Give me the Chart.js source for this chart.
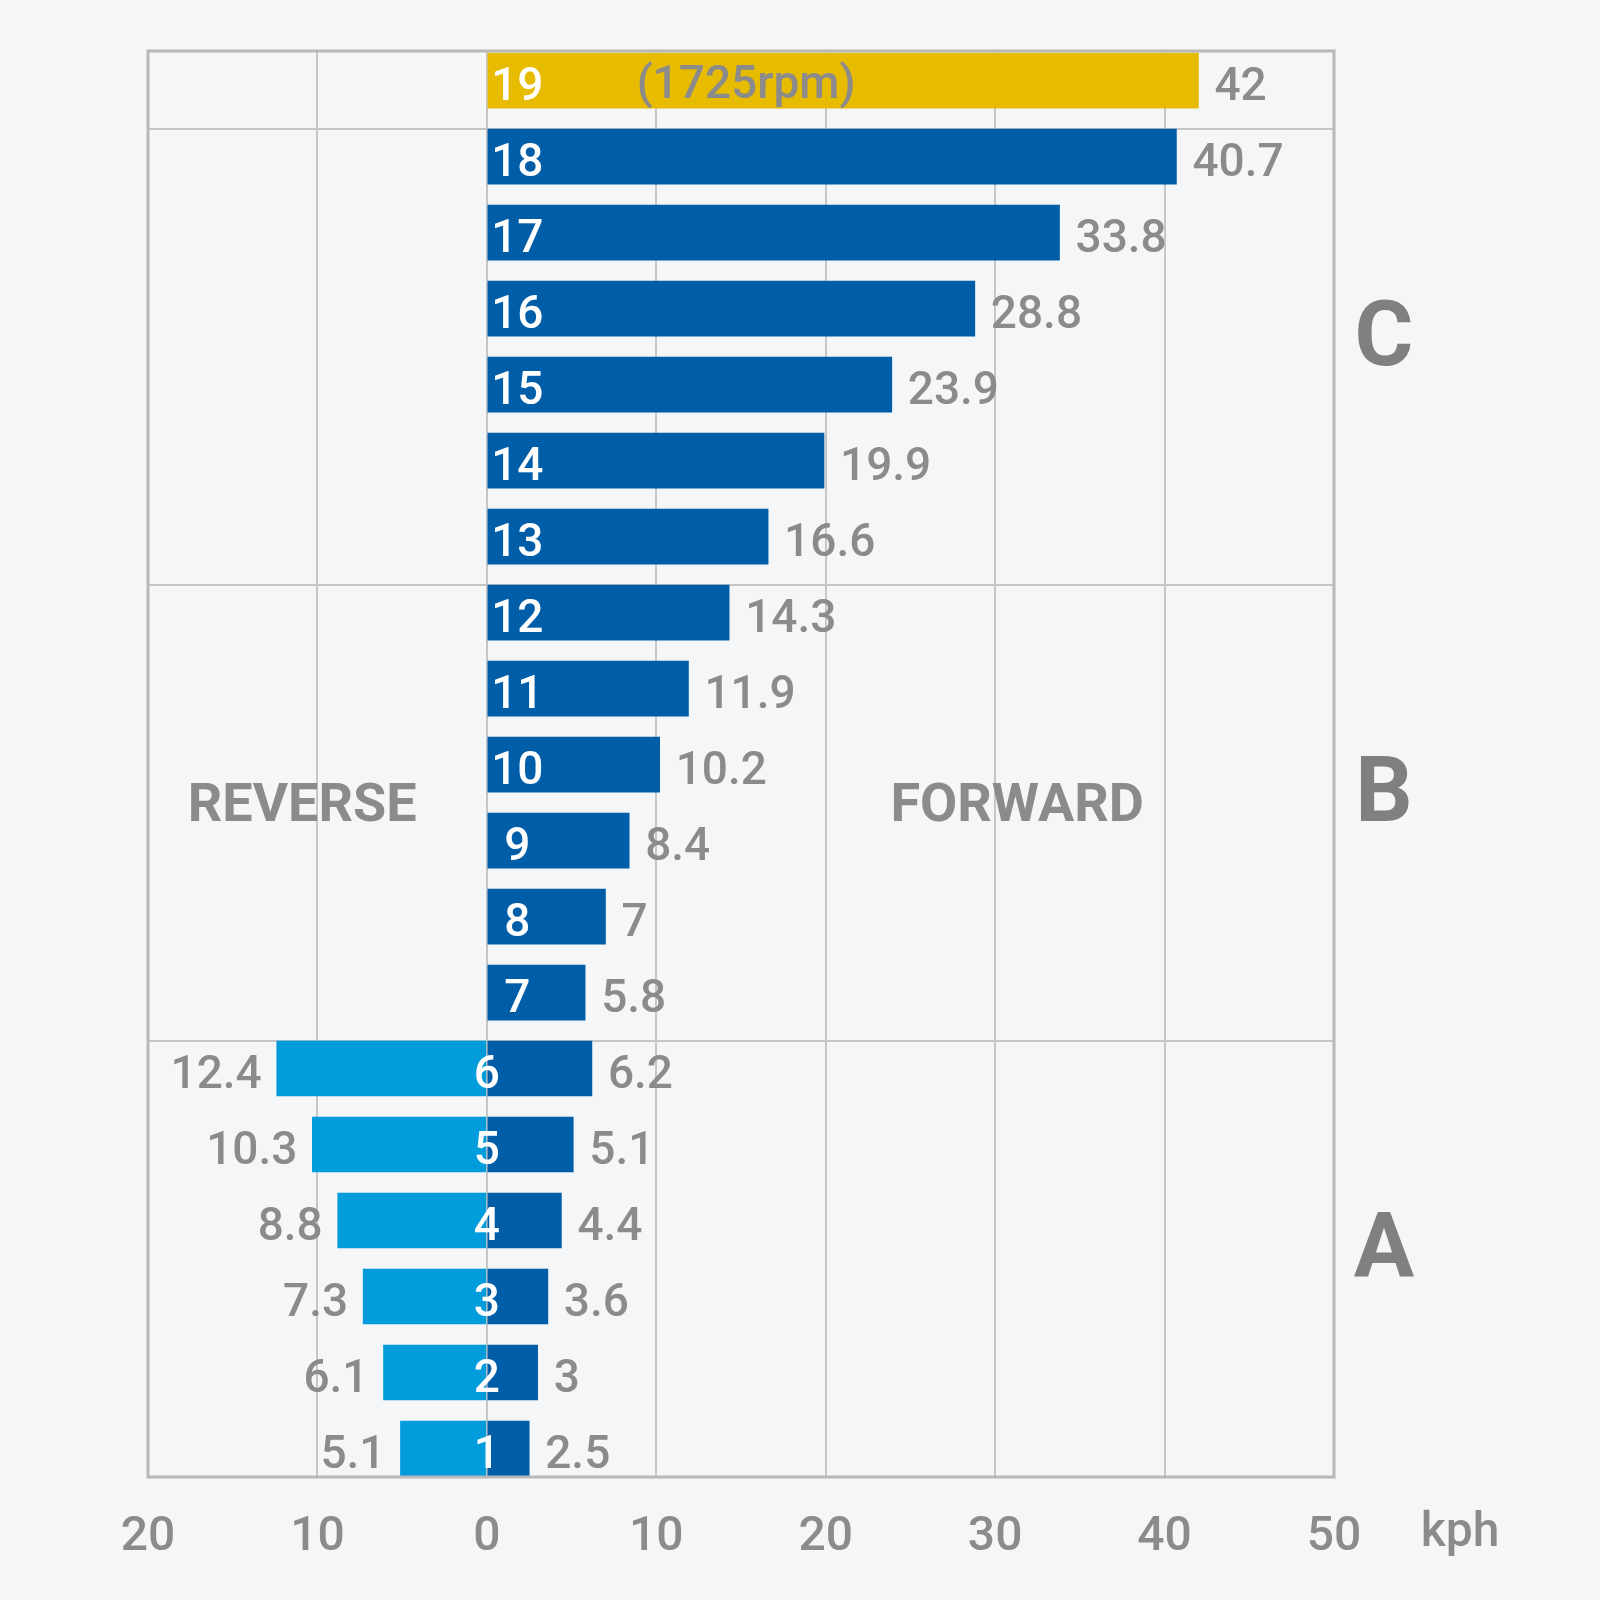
<html>
<head>
    <title>Gear speeds</title>
    <script src="https://cdn.jsdelivr.net/npm/chart.js@4.4.1/dist/chart.umd.min.js"></script>
    <style>
        body { margin: 0; background: #f5f6f8; }
    </style>
</head>
<body>
    <canvas id="gearChart" width="1600" height="1600"></canvas>
    <script>
        // gears top to bottom
        var gears = [19, 18, 17, 16, 15, 14, 13, 12, 11, 10, 9, 8, 7, 6, 5, 4, 3, 2, 1];
        var forward = [42, 40.7, 33.8, 28.8, 23.9, 19.9, 16.6, 14.3, 11.9, 10.2, 8.4, 7, 5.8, 6.2, 5.1, 4.4, 3.6, 3, 2.5];
        var reverse = [null, null, null, null, null, null, null, null, null, null, null, null, null, 12.4, 10.3, 8.8, 7.3, 6.1, 5.1];
        var tickLabels = ['20', '10', '0', '10', '20', '30', '40', '50'];
        var groups = [
            { name: 'C', from: 18, to: 13 },
            { name: 'B', from: 12, to: 7 },
            { name: 'A', from: 6, to: 1 }
        ];
        var topNote = '(1725rpm)';

        var GRAY = '#8b8b8b';
        var FONT = 'Roboto, "DejaVu Sans", sans-serif';
        var BAR = 55;

        var textPlugin = {
            id: 'texts',
            beforeDraw: function (chart) {
                var c = chart.ctx;
                c.save();
                c.fillStyle = '#f5f6f8';
                c.fillRect(0, 0, chart.width, chart.height);
                c.restore();
            },
            afterDraw: function (chart) {
                var c = chart.ctx;
                var xs = chart.scales.x, ys = chart.scales.y;
                var area = chart.chartArea;
                c.save();
                // frame
                c.strokeStyle = '#b8b8b8';
                c.lineWidth = 3;
                c.strokeRect(area.left, area.top, area.right - area.left, area.bottom - area.top);

                c.textBaseline = 'middle';
                c.font = '500 46px ' + FONT;
                var fMeta = chart.getDatasetMeta(0);
                fMeta.data.forEach(function (bar, i) {
                    c.fillStyle = GRAY;
                    c.textAlign = 'left';
                    c.fillText(String(forward[i]), bar.x + 16, bar.y + 8);
                    // gear number
                    c.fillStyle = '#ffffff';
                    c.textAlign = 'center';
                    var gx = reverse[i] == null ? xs.getPixelForValue(1.8) : xs.getPixelForValue(0);
                    c.fillText(String(gears[i]), gx, bar.y + 8);
                });
                var rMeta = chart.getDatasetMeta(1);
                rMeta.data.forEach(function (bar, i) {
                    if (reverse[i] == null) return;
                    c.fillStyle = GRAY;
                    c.textAlign = 'right';
                    c.fillText(String(reverse[i]), bar.x - 15, bar.y + 8);
                });
                // rpm note on top gear
                c.fillStyle = GRAY;
                c.textAlign = 'center';
                c.fillText(topNote, xs.getPixelForValue(15.3), ys.getPixelForValue(gears[0]) + 6);

                // REVERSE / FORWARD
                c.font = 'bold 54px ' + FONT;
                var midY = ys.getPixelForValue(9.5) + 5;
                c.fillText('REVERSE', xs.getPixelForValue(-10.9), midY);
                c.fillText('FORWARD', xs.getPixelForValue(31.3), midY);

                // group letters
                c.font = 'bold 90px ' + FONT;
                c.fillStyle = '#808080';
                groups.forEach(function (g) {
                    var y = ys.getPixelForValue((g.from + g.to) / 2) - 4;
                    c.fillText(g.name, area.right + 50, y);
                });

                // unit
                c.font = '500 48px ' + FONT;
                c.fillStyle = GRAY;
                c.fillText('kph', area.right + 126, area.bottom + 57);
                c.restore();
            }
        };

        var forwardColors = gears.map(function (g) { return g === 19 ? '#e6bb00' : '#005ea9'; });

        var config = {
            type: 'bar',
            data: {
                datasets: [
                    {
                        label: 'Forward',
                        data: gears.map(function (g, i) { return { x: forward[i], y: g }; }),
                        backgroundColor: forwardColors,
                        barThickness: BAR,
                        borderWidth: 0
                    },
                    {
                        label: 'Reverse',
                        data: gears.map(function (g, i) { return { x: reverse[i] == null ? null : -reverse[i], y: g }; }),
                        backgroundColor: '#009cdc',
                        barThickness: BAR,
                        borderWidth: 0
                    }
                ]
            },
            options: {
                indexAxis: 'y',
                responsive: false,
                animation: false,
                layout: { padding: { left: 148, right: 266, top: 51, bottom: 0 } },
                plugins: {
                    legend: { display: false },
                    tooltip: { enabled: false }
                },
                scales: {
                    x: {
                        stacked: true,
                        min: -20,
                        max: 50,
                        border: { display: false },
                        grid: { color: '#c6c6c6', lineWidth: 2, drawTicks: false },
                        ticks: {
                            stepSize: 10,
                            padding: 32,
                            color: GRAY,
                            font: { family: FONT, size: 48, weight: '500' },
                            callback: function (v, i) { return tickLabels[i]; }
                        },
                        afterFit: function (scale) { scale.height = 123; }
                    },
                    y: {
                        type: 'linear',
                        stacked: true,
                        offset: false,
                        min: 0.625,
                        max: 19.39,
                        border: { display: false },
                        grid: { drawTicks: false, offset: false, lineWidth: 2, color: '#c6c6c6' },
                        ticks: { display: false },
                        // group separators sit on the top edge of gears 18, 12 and 6
                        afterBuildTicks: function (scale) {
                            var half = (BAR / 2) / 76;
                            scale.ticks = [18, 12, 6].map(function (g) { return { value: g + half }; });
                        },
                        afterFit: function (scale) { scale.width = 0; }
                    }
                }
            },
            plugins: [textPlugin]
        };

        var ctx = document.getElementById('gearChart').getContext('2d');
        var gearChart = new Chart(ctx, config);
    </script>
</body>
</html>
